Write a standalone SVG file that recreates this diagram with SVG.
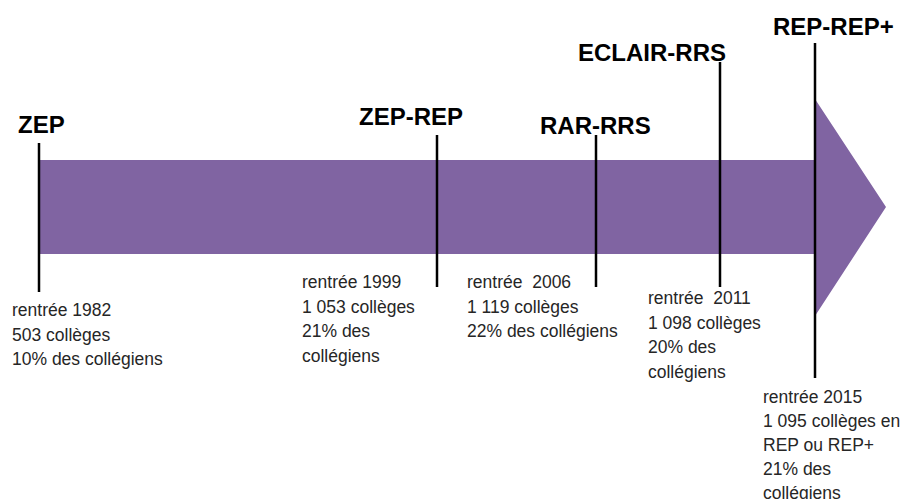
<svg xmlns="http://www.w3.org/2000/svg" width="907" height="499" viewBox="0 0 907 499">
<style>
.title{font-family:"Liberation Sans",Arial,sans-serif;font-weight:bold;font-size:24px;fill:#000}
.body{font-family:"Liberation Sans",Arial,sans-serif;font-size:17.5px;fill:#262626}
.tick{stroke:#000;stroke-width:2.5;fill:none}
</style>
<rect width="907" height="499" fill="#fff"/>
<g id="arrow">
<path d="M39,160 H815 V99 L886,207 L815,316 V254 H39 Z" fill="#8064A2"/>
</g>
<g id="connectors">
<line class="tick" x1="39" y1="143" x2="39" y2="292"/>
<line class="tick" x1="437" y1="135" x2="437" y2="287"/>
<line class="tick" x1="596" y1="135" x2="596" y2="287"/>
<line class="tick" x1="720" y1="62" x2="720" y2="287"/>
<line class="tick" x1="815" y1="43" x2="815" y2="378"/>
</g>
<g id="zep">
<text class="title" x="18" y="133">ZEP</text>
<text class="body" x="12" y="316"><tspan x="12">rentrée 1982</tspan><tspan x="12" dy="24.5">503 collèges</tspan><tspan x="12" dy="24.5">10% des collégiens</tspan></text>
</g>
<g id="zep-rep">
<text class="title" x="359" y="125">ZEP-REP</text>
<text class="body" x="302" y="288"><tspan x="302">rentrée 1999</tspan><tspan x="302" dy="24.5">1 053 collèges</tspan><tspan x="302" dy="24.5">21% des</tspan><tspan x="302" dy="24.5">collégiens</tspan></text>
</g>
<g id="rar-rrs">
<text class="title" x="540" y="134">RAR-RRS</text>
<text class="body" x="467" y="288" xml:space="preserve"><tspan x="467">rentrée  2006</tspan><tspan x="467" dy="24.5">1 119 collèges</tspan><tspan x="467" dy="24.5">22% des collégiens</tspan></text>
</g>
<g id="eclair-rrs">
<text class="title" x="578" y="61">ECLAIR-RRS</text>
<text class="body" x="648" y="304" xml:space="preserve"><tspan x="648">rentrée  2011</tspan><tspan x="648" dy="24.5">1 098 collèges</tspan><tspan x="648" dy="24.5">20% des</tspan><tspan x="648" dy="24.5">collégiens</tspan></text>
</g>
<g id="rep-rep-plus">
<text class="title" x="773" y="35">REP-REP+</text>
<text class="body" x="763" y="403"><tspan x="763">rentrée 2015</tspan><tspan x="763" dy="24">1 095 collèges en</tspan><tspan x="763" dy="24">REP ou REP+</tspan><tspan x="763" dy="24">21% des</tspan><tspan x="763" dy="24">collégiens</tspan></text>
</g>
</svg>
